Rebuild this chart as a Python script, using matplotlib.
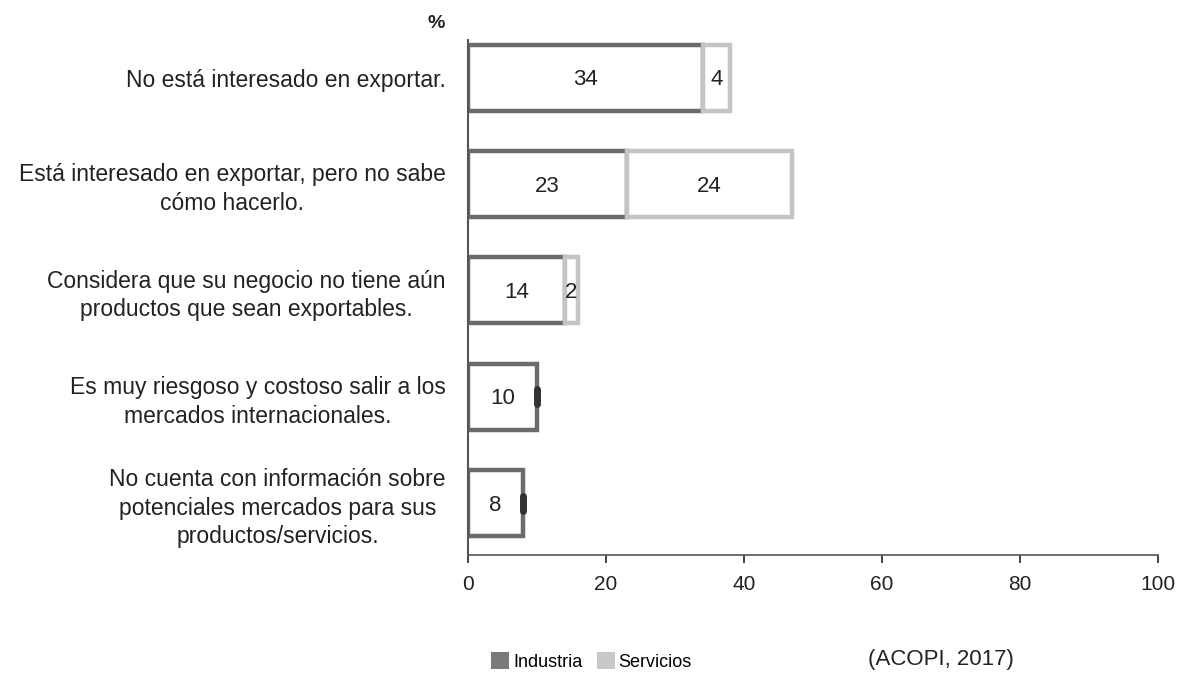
import matplotlib.pyplot as plt
from matplotlib.patches import Patch

plt.rcParams['font.family'] = ['Liberation Sans', 'DejaVu Sans']

categories = [
    "No está interesado en exportar.",
    "Está interesado en exportar, pero no sabe\ncómo hacerlo.",
    "Considera que su negocio no tiene aún\nproductos que sean exportables.",
    "Es muy riesgoso y costoso salir a los\nmercados internacionales.",
    "No cuenta con información sobre\npotenciales mercados para sus\nproductos/servicios.",
]
industria = [34, 23, 14, 10, 8]
servicios = [4, 24, 2, 0, 0]

fig = plt.figure(figsize=(11.83, 6.73), dpi=100)
ax = fig.add_axes([0.3956, 0.175, 0.5834, 0.765])

ypos = list(range(len(categories)))
ax.barh(ypos, industria, height=0.62, color='white', edgecolor='#6b6b6b', linewidth=3.2)
serv_edges = ['#c4c4c4' if v > 0 else 'none' for v in servicios]
ax.barh(ypos, servicios, left=industria, height=0.62, color='white', edgecolor=serv_edges, linewidth=3.2)

# small dark end marks where Servicios is ~0
for y, v in zip(ypos, servicios):
    if v == 0:
        ax.plot([industria[y]] * 2, [y - 0.07, y + 0.07], color='#333333', lw=5, solid_capstyle='round')

for y, (a, b) in enumerate(zip(industria, servicios)):
    ax.text(a / 2, y + 0.02, str(a), ha='center', va='center', fontsize=16, color='#222222')
    if b > 0:
        ax.text(a + b / 2, y + 0.02, str(b), ha='center', va='center', fontsize=16, color='#222222')

ax.set_xlim(0, 100)
ax.set_ylim(4.49, -0.35)
ax.set_xticks([0, 20, 40, 60, 80, 100])
ax.set_yticks(ypos)
ax.set_yticklabels(categories, fontsize=16.5, color='#222222', linespacing=1.3)
for lbl in ax.get_yticklabels():
    lbl.set_multialignment('center')
ax.tick_params(axis='y', length=0, pad=16)
ax.tick_params(axis='x', labelsize=15, colors='#222222', length=6, width=1.2, direction='out', pad=8)
for s in ['top', 'right']:
    ax.spines[s].set_visible(False)
ax.spines['left'].set_color('#555555')
ax.spines['left'].set_linewidth(1.5)
ax.spines['bottom'].set_color('#555555')
ax.spines['bottom'].set_linewidth(1.2)

fig.text(0.369, 0.965, '%', fontsize=14, fontweight='bold', ha='center', va='center', color='#222222')

handles = [Patch(facecolor='#7a7a7a', edgecolor='none', label='Industria'),
           Patch(facecolor='#c8c8c8', edgecolor='none', label='Servicios')]
fig.legend(handles=handles, loc='center', bbox_to_anchor=(0.5, 0.017), ncol=2, frameon=False,
           fontsize=13, handlelength=1.0, handleheight=1.0, handletextpad=0.2, columnspacing=0.8)
fig.text(0.795, 0.02, '(ACOPI, 2017)', fontsize=16, ha='center', va='center', color='#222222')

fig.savefig('out.png', dpi=100)
